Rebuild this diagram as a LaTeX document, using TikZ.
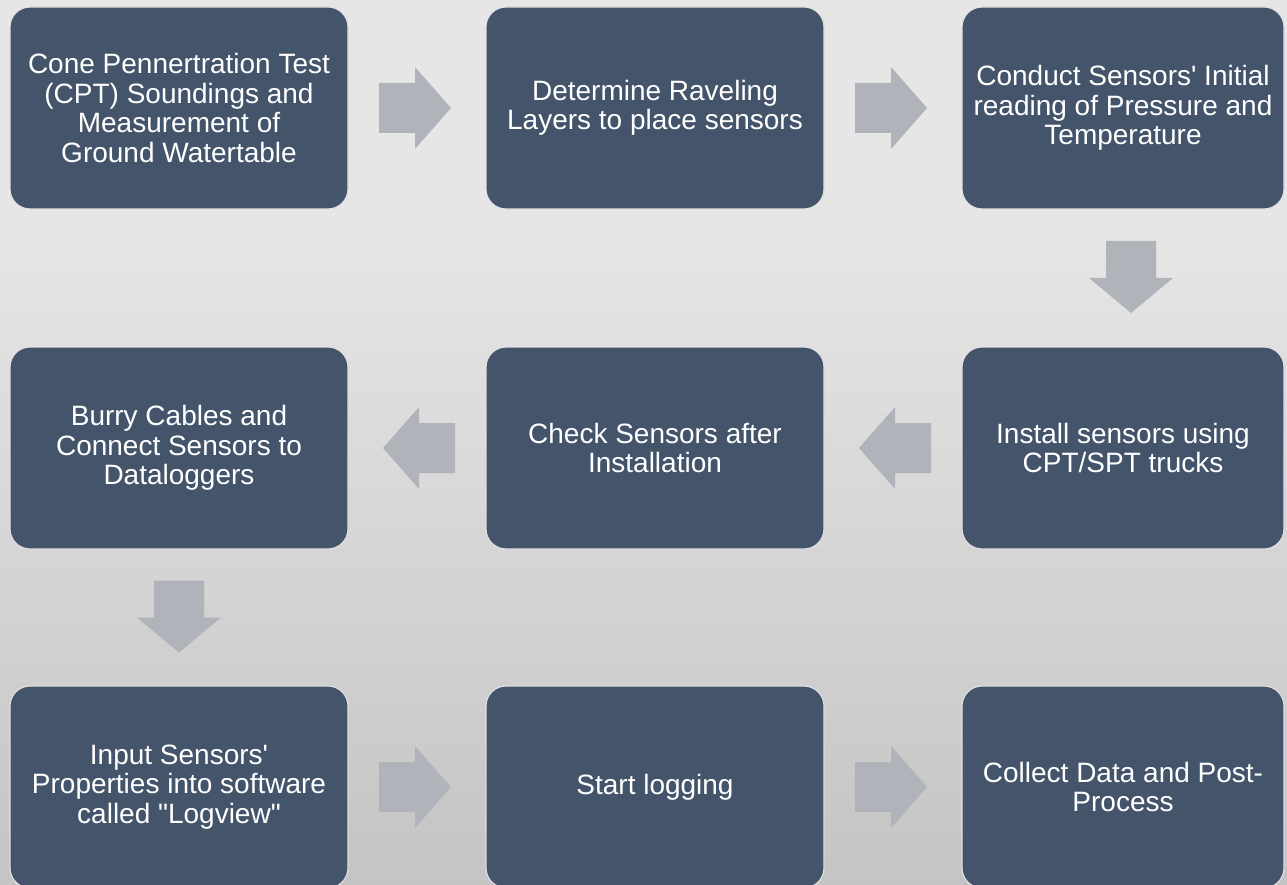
\documentclass[tikz,border=0pt]{standalone}
\usepackage{fontspec}
\setmainfont{Liberation Sans}
\usetikzlibrary{calc}

\definecolor{boxblue}{HTML}{44546A}
\definecolor{arrowgray}{HTML}{B0B3BA}
\definecolor{bgtop}{HTML}{E6E6E6}
\definecolor{bgbot}{HTML}{C4C4C4}

% straight quote marks, as the slides print them
\newcommand{\apos}{\textquotesingle}
\newcommand{\dquote}{\textquotedbl}

\tikzset{
  stepbox/.style={rectangle, rounded corners=20pt, fill=boxblue, draw=white!88!black,
    line width=1.2pt, minimum width=338pt, minimum height=202pt, inner sep=0pt,
    text=white, align=center, font=\fontsize{28}{29.5}\selectfont},
  narrowbox/.style={stepbox, minimum width=322pt},
  % block arrow, centred on its anchor point, pointing right
  pics/blockarrow/.style={code={
    \fill[arrowgray] (-36,-25) -- (0,-25) -- (0,-41) -- (36,0) -- (0,41) -- (0,25) -- (-36,25) -- cycle;}},
  % block arrow pointing down (y axis runs downwards)
  pics/downarrow/.style={code={
    \fill[arrowgray] (-25,-37) -- (25,-37) -- (25,0) -- (42,0) -- (0,35) -- (-42,0) -- (-25,0) -- cycle;}},
}

\begin{document}
\begin{tikzpicture}[x=1pt, y=-1pt]

  %% ==== background ====
  \fill[bgtop] (0,0) rectangle (1287,230);
  \shade[top color=bgtop, bottom color=bgbot] (0,229) rectangle (1287,885);

  %% ==== steps ====
  \node[stepbox] (cpt) at (179,108) {Cone Pennertration Test\\(CPT) Soundings and\\Measurement of\\Ground Watertable};
  \node[stepbox] (layers) at (655,108) {Determine Raveling\\Layers to place sensors};
  \node[narrowbox] (initial) at (1123,108) {Conduct Sensors\apos{} Initial\\reading of Pressure and\\Temperature};

  \node[narrowbox] (install) at (1123,448) {Install sensors using\\CPT/SPT trucks};
  \node[stepbox] (check) at (655,448) {Check Sensors after\\Installation};
  \node[stepbox] (burry) at (179,448) {Burry Cables and\\Connect Sensors to\\Dataloggers};

  \node[stepbox] (input) at (179,787) {Input Sensors\apos\\Properties into software\\called \dquote{}Logview\dquote};
  \node[stepbox] (start) at (655,787) {Start logging};
  \node[narrowbox] (collect) at (1123,787) {Collect Data and Post-\\Process};

  %% ==== block arrows ====
  \pic at ($(cpt.east)!0.5!(layers.west)+(-2,0)$) {blockarrow};
  \pic at ($(layers.east)!0.5!(initial.west)+(-2,0)$) {blockarrow};
  \pic at ($(initial.south)!0.5!(install.north)+(8,0)$) {downarrow};
  \pic[rotate=180] at ($(install.west)!0.5!(check.east)+(2,0)$) {blockarrow};
  \pic[rotate=180] at ($(check.west)!0.5!(burry.east)+(2,0)$) {blockarrow};
  \pic at ($(burry.south)!0.5!(input.north)$) {downarrow};
  \pic at ($(input.east)!0.5!(start.west)+(-2,0)$) {blockarrow};
  \pic at ($(start.east)!0.5!(collect.west)+(-2,0)$) {blockarrow};

  \pgfresetboundingbox
  \path[use as bounding box] (0,0) rectangle (1287,885);
\end{tikzpicture}
\end{document}
